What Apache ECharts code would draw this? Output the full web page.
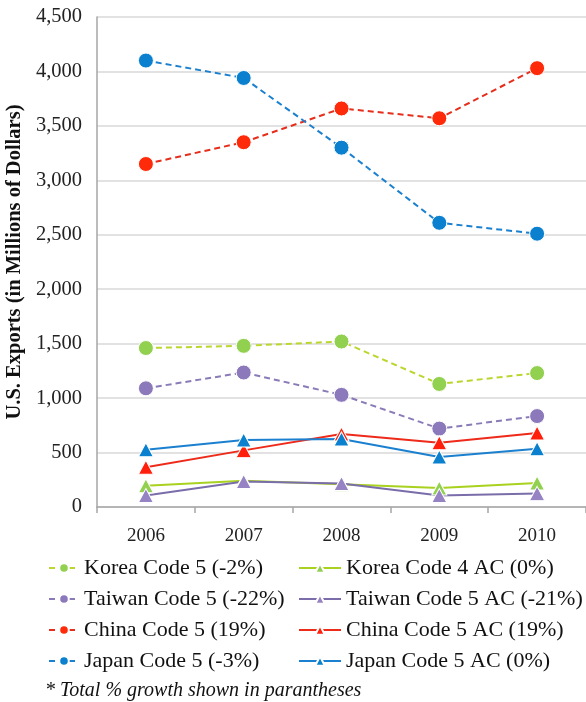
<!DOCTYPE html>
<html><head><meta charset="utf-8">
<script src="https://cdn.jsdelivr.net/npm/echarts@6/dist/echarts.min.js"></script>
<style>html,body{margin:0;padding:0;background:#fff}#c{width:586px;height:702px}</style>
</head><body><div id="c"></div>
<script>
const years = ['2006','2007','2008','2009','2010'];
const koreaCode5 = [1460, 1480, 1520, 1130, 1230];
const koreaCode4AC = [195, 240, 210, 175, 220];
const taiwanCode5 = [1090, 1235, 1030, 720, 835];
const taiwanCode5AC = [105, 235, 215, 105, 125];
const chinaCode5 = [3150, 3350, 3660, 3570, 4030];
const chinaCode5AC = [365, 520, 670, 590, 680];
const japanCode5 = [4100, 3940, 3300, 2610, 2510];
const japanCode5AC = [525, 615, 625, 460, 535];
const yTicks = [0, 500, 1000, 1500, 2000, 2500, 3000, 3500, 4000, 4500];

const FONT = "'Liberation Serif','Times New Roman',serif";
function dashed(name, data, lineColor, markColor) {
  return { name, type: 'line', data, symbol: 'circle', symbolSize: 15,
    lineStyle: { color: lineColor, width: 2, type: [6, 4] },
    itemStyle: { color: markColor, borderColor: '#ffffff', borderWidth: 1 } };
}
function solid(name, data, lineColor, markColor) {
  return { name, type: 'line', data, symbol: 'triangle', symbolSize: [15, 14],
    lineStyle: { color: lineColor, width: 2 },
    itemStyle: { color: markColor, borderColor: '#ffffff', borderWidth: 1 } };
}
const chart = echarts.init(document.getElementById('c'), null, { renderer: 'canvas' });
const legendText = { fontFamily: FONT, fontSize: 22, color: '#111' };
chart.setOption({
  animation: false,
  textStyle: { fontFamily: FONT },
  grid: { left: 97, right: 0, top: 17, bottom: 195, outerBoundsMode: 'none', containLabel: false },
  legend: [
    { data: ['Korea Code 5 (-2%)', 'Taiwan Code 5 (-22%)', 'China Code 5 (19%)', 'Japan Code 5 (-3%)'],
      orient: 'vertical', left: 43, top: 552, itemWidth: 30, itemHeight: 12, itemGap: 9,
      textStyle: legendText },
    { data: ['Korea Code 4 AC (0%)', 'Taiwan Code 5 AC (-21%)', 'China Code 5 AC (19%)', 'Japan Code 5 AC (0%)'],
      orient: 'vertical', left: 293, top: 552, itemWidth: 42, itemHeight: 12, itemGap: 9,
      textStyle: legendText }
  ],
  graphic: [{ type: 'text', left: 45, top: 681,
    style: { text: '* Total % growth shown in parantheses', font: 'italic 20px ' + FONT, fill: '#111' } }],
  xAxis: { type: 'category', data: years, boundaryGap: true,
    axisLine: { lineStyle: { color: '#a6a6a6', width: 1.5 } },
    axisTick: { show: true, length: 6, lineStyle: { color: '#a6a6a6', width: 1.5 } },
    axisLabel: { fontFamily: FONT, fontSize: 19, color: '#222', margin: 20 } },
  yAxis: { type: 'value', min: 0, max: 4500, interval: 500,
    name: 'U.S. Exports (in Millions of Dollars)', nameLocation: 'middle', nameGap: 71,
    nameTextStyle: { fontFamily: FONT, fontSize: 20.5, fontWeight: 'bold', color: '#111' },
    axisLine: { show: true, lineStyle: { color: '#a6a6a6', width: 1.5 } },
    axisTick: { show: false },
    splitLine: { lineStyle: { color: '#d9d9d9', width: 1.5 } },
    axisLabel: { fontFamily: FONT, fontSize: 20.5, color: '#222', margin: 15,
      formatter: v => yTicks.includes(v) ? v.toLocaleString('en-US') : '' } },
  series: [
    dashed('Korea Code 5 (-2%)', koreaCode5, '#bcd630', '#92d050'),
    solid('Korea Code 4 AC (0%)', koreaCode4AC, '#a8d21f', '#92d050'),
    dashed('Taiwan Code 5 (-22%)', taiwanCode5, '#8a7bb8', '#8c79bb'),
    solid('Taiwan Code 5 AC (-21%)', taiwanCode5AC, '#7a6daa', '#9683c4'),
    dashed('China Code 5 (19%)', chinaCode5, '#e62e1c', '#ff2a0a'),
    solid('China Code 5 AC (19%)', chinaCode5AC, '#ee2a1a', '#ff1f0a'),
    dashed('Japan Code 5 (-3%)', japanCode5, '#1b80cf', '#0a80cf'),
    solid('Japan Code 5 AC (0%)', japanCode5AC, '#1b80cf', '#0a80cf')
  ]
});
</script></body></html>
